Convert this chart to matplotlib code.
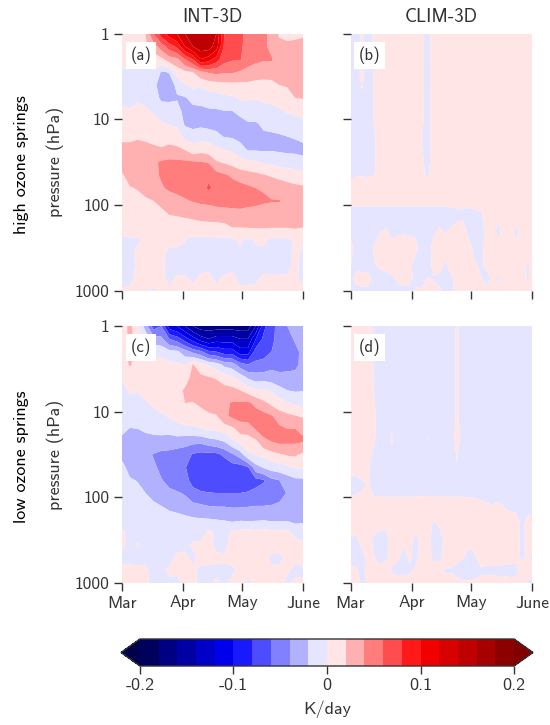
#!/usr/bin/env python
# -*- coding: utf-8 -*-

"""
Spring temperature tendency composites, INT-3D against CLIM-3D
"""

import numpy as np
import matplotlib
matplotlib.use("Agg")
import matplotlib.pyplot as plt

plt.rcParams['font.family'] = ['cmss10', 'DejaVu Sans']
plt.rcParams['axes.unicode_minus'] = False

INK = '#333333'

# values are K/day x 100, one inner list per day, top of the atmosphere first
days_int = [0, 4, 8, 12, 16, 20, 24, 28, 32, 36, 40, 44, 48, 52, 56, 60, 64, 68, 72, 76, 80, 84, 88, 92]
logp_int = [0, .15, .3, .45, .6, .75, .9, 1.05, 1.2, 1.35, 1.5, 1.65, 1.8, 1.95, 2.1, 2.25, 2.4, 2.55, 2.7, 2.85, 3]

high_int = [
    [1, 1, .6, -.2, -1, -.6, .5, 1, 1.6, 2.6, 2.6, 1.8, 1.2, 1, 1, .8, -.3, -.5, -.5, -.4, .3],
    [1.2, 1, .5, -.3, -1, -.8, .2, 1, 1.6, 2.6, 3, 2.6, 1.9, 1.2, 1, .8, -.2, -.3, -.6, -.4, .3],
    [1.5, 1.2, .3, -.8, -1, -.3, .6, 1, 1.7, 3, 3.2, 3, 2.1, 1.5, 1, .8, -.2, .3, .3, .4, .3],
    [2, 1.8, .5, -.5, -1, -.6, .3, 1, 1.6, 2.7, 3.2, 3.2, 2.6, 1.7, 1.2, .8, .3, .3, .3, .3, .3],
    [6, 3, .8, -.2, -1.5, -1, -.2, .7, 1.4, 2.4, 3.6, 3.6, 3, 2, 1.3, .9, .3, .3, .3, .3, -.2],
    [9, 5, 1.5, -2.2, -2.8, -2.4, -.8, .2, 1.2, 2.2, 4.3, 4.2, 3.8, 2.5, 1.5, .9, .3, .3, .3, .3, .3],
    [11, 7, 3, -1.9, -3, -2.4, -1, -.1, 1.2, 2.6, 4.5, 4.7, 4.3, 3, 2.1, .9, .3, -.2, -.5, -.3, .2],
    [12, 8.5, 3.5, .8, -1.5, -2.2, -1.1, -.3, 1, 2.4, 4.5, 4.8, 4.5, 3.4, 2.2, 1, .3, -.2, -.5, .2, .3],
    [14, 12, 6, 1.5, -.1, -2.2, -2.8, -2.3, -.5, 1.9, 4.4, 5, 4.7, 3.8, 2.4, 1, .1, -.5, -.6, .2, .3],
    [15, 14, 8, 2, .4, -1.2, -2.8, -2.7, -.9, .8, 4.3, 5.2, 5, 4.1, 2.6, 1.1, -.4, -.6, -.5, -.2, .3],
    [15.5, 15, 12, 3.5, .2, -1.2, -2.6, -2.5, -.6, 1.3, 4.1, 5.5, 5.2, 4.3, 2.9, 1.2, -.4, -.5, -.3, .2, .3],
    [15, 15, 11, 4.2, .8, -.9, -2.3, -2.7, -.8, 1, 3.9, 5.6, 6.3, 4.4, 3, 1.3, -.4, -.5, -.3, .3, .3],
    [14, 13, 9, 4.5, 1, -.9, -2.2, -2.6, -1.5, .5, 2.2, 4.9, 5.5, 4.7, 3, 1.4, -.3, -.4, -.5, -.2, .3],
    [8, 7.6, 6.7, 4.2, 1.3, -.5, -2, -2.5, -2.1, -.1, 1.8, 4.3, 5.3, 4.8, 3.1, 1.5, -.3, -.5, -.5, .2, .3],
    [7.5, 7.2, 6.2, 4.2, 1.4, -.3, -2, -2.7, -2.2, -.2, 1.4, 3.7, 5, 4.8, 3.3, 2.1, -.2, -.4, -.3, .3, .3],
    [6.5, 6.4, 6.2, 3.8, 1.4, .2, -1.5, -2.7, -2.6, -1.1, .8, 3.1, 4.8, 4.7, 3.5, 2.1, .2, -.3, -.3, -.3, .3],
    [5.4, 5.2, 4.8, 3.4, 1.5, .3, -1, -2.2, -2.6, -2.2, .5, 2.8, 4.4, 4.5, 3.4, 2.2, -.3, -.5, -.5, -.3, .3],
    [5, 4.8, 4.4, 3, 1.3, .1, -1, -2.2, -2.7, -2.2, .3, 2.5, 4, 4.4, 3.3, 2.2, .2, -.3, -.4, -.2, .3],
    [4.8, 4.5, 4.2, 2.8, 1.3, .3, -.7, -1.6, -2.4, -2.3, -.2, 2.1, 3.9, 4.2, 3.2, 2.2, .2, -.2, -.3, .2, .3],
    [3, 3.4, 4.2, 2.8, 1.4, .4, -.5, -1.5, -2.3, -2.2, -.4, 1.8, 3.4, 4.1, 3.1, 2.2, -.3, -.5, -.5, .2, .3],
    [1.7, 2.7, 3, 2.6, 2, .7, -.2, -1.3, -2.2, -2.3, -.7, 1.5, 3.1, 4.1, 3, 2.2, -.3, -.5, -.5, .2, .3],
    [1.4, 2.5, 2.8, 2.6, 2.2, 1, .2, -1, -2, -2.4, -.9, 1.3, 2.7, 3.2, 2.9, 2.2, -.3, -.4, -.4, .2, .3],
    [1.6, 2.5, 2.8, 2.7, 2.3, 2, .4, -.8, -1.9, -2.4, -1.1, 1, 2.5, 3, 2.9, 2.3, .2, .3, .3, .3, .3],
    [1.8, 2.5, 2.8, 2.7, 2.4, 2.1, .6, -.6, -1.6, -2.5, -1.4, .6, 2.4, 2.9, 2.9, 2.1, .2, -.2, -.4, -.3, .3],
]

low_int = [
    [.8, .9, 1, 1, .1, -.4, -1, -1, -1.4, -2.7, -2.4, -1.5, -1.2, -1, -1, -.6, .2, .3, -.3, .3, .3],
    [2.6, 2.6, 2.6, 2.2, 1, .2, -.7, -1, -2.1, -3, -3, -2.6, -1.8, -1.2, -1, -.7, -.4, -.3, -.3, .3, .3],
    [.5, 1, 1.2, 1.2, .8, .1, -.7, -1, -2, -3.2, -3.4, -3, -2.1, -1.4, -1, -.7, -.4, .1, -.3, .2, .2],
    [-3, -.5, .5, 1.2, 1, .6, -.2, -1, -1.6, -3, -3.6, -3.2, -2.7, -2, -1.3, -.8, -.5, -.6, -.3, .3, .2],
    [-7, -3, -.5, 1, 1.2, 1, .3, -.6, -1.5, -2.7, -4.1, -3.7, -3.2, -2.6, -1.6, -.9, -.5, -.4, -.4, -.4, -.3],
    [-6, -3.5, -.5, .8, 1.2, 1.1, .6, -.2, -1.4, -2.7, -4.6, -4.4, -3.9, -3.1, -2, -1.1, -.6, -.3, -.4, -.5, -.4],
    [-11, -6, -1.3, .5, 1.1, 1.2, .8, .2, -1.3, -3, -4.6, -4.9, -4.5, -3.6, -2.4, -1.2, -.6, -.4, -.6, .3, -.3],
    [-12, -7, -1.6, .4, 1.2, 1.5, 1.1, .5, -.6, -3.2, -4.8, -5.2, -5, -3.8, -2.6, -1.4, -.6, -.4, .3, .2, -.3],
    [-14, -9, -3, -.1, 1.4, 2.2, 2, 1.3, -.5, -3.4, -5, -5.8, -5.4, -4.2, -2.9, -1.6, -.8, -.3, .3, .3, .3],
    [-16, -11, -4.5, 2.1, 2.4, 2.8, 1.9, 1.2, -.4, -3.5, -6.2, -7.4, -6.6, -5.4, -3.4, -1.8, -.6, .2, -.4, .3, .3],
    [-17, -13, -5.5, 1, 2.4, 3, 2.3, 1.3, -.1, -3.6, -6.6, -7.8, -7.3, -5.7, -3.7, -1.9, -.8, .4, .5, -.3, -.3],
    [-17, -14, -7.5, -.2, 2.1, 3.1, 2.7, 1.7, .4, -3, -6.6, -7.9, -7.6, -5.9, -4, -2, .3, .6, .4, -.3, -.3],
    [-17, -13, -8, -1, 1.8, 3.2, 2.9, 1.9, .4, -2.6, -6.5, -7.9, -7.7, -6, -4.1, -2.1, -.3, -.4, .3, -.3, .3],
    [-17, -13, -9, -2.5, 1, 2.8, 3.5, 3.6, .8, -2, -5.6, -7.5, -7.6, -6, -4.1, -2.2, -.5, -.4, .2, -.3, -.3],
    [-17, -13, -9, -3, .4, 2.7, 4.2, 4.4, 1.5, -.6, -4.3, -7, -7.6, -6, -4.2, -2.6, .2, .5, .4, -.2, .3],
    [-17, -14, -11, -5, -.7, 2, 4.3, 4.8, 2.8, .5, -3, -7, -7.7, -6, -4.2, -2.4, .5, 1, .5, .3, .3],
    [-17, -14, -11, -6, -2.3, 1.2, 4.4, 5, 2.8, 1, -.4, -6.2, -7.3, -5.8, -4.1, -2.5, .6, .8, .4, .3, -.2],
    [-14, -10, -7, -5.5, -3, .4, 3.5, 5, 4.2, 1.5, .2, -2.8, -6.6, -5.5, -4, -2.4, .4, .9, .4, .3, .3],
    [-8.5, -7.5, -6.5, -5.5, -2.8, .3, 2.5, 4.8, 5, 3.4, .5, -1.8, -6.2, -5.1, -4, -2.3, .6, .9, .5, .3, .2],
    [-6.8, -6.5, -6, -4.6, -3, -.2, 1.5, 4.2, 5, 4, 1.3, -1.2, -4.5, -5, -3.9, -2.5, .4, .8, -.3, .3, .2],
    [-5, -5.2, -5, -4.6, -3.5, -1.2, .9, 3, 4.5, 4.4, 1.8, -.9, -4, -4.6, -3.7, -2.5, .3, .7, -.3, .2, .3],
    [-4, -4.6, -5, -4.6, -3.4, -2, .2, 2.5, 4, 4.3, 2.2, -.4, -3.2, -3.9, -3.4, -2.4, .3, .8, .3, .2, -.3],
    [-3.4, -3.8, -4.5, -4.4, -3.4, -2.2, -.3, 2.1, 4, 4.3, 2.3, .2, -2.5, -3.5, -3.3, -2.8, -.5, .5, .3, -.3, .3],
    [-3, -3.2, -3.5, -3.5, -3.2, -2.1, -.6, 1.7, 3.9, 4.1, 1.6, .2, -2.4, -3.4, -3.2, -2.6, -.7, .3, .5, -.3, .3],
]

days_clim = [0, 3, 6, 9, 12, 15, 18, 21, 24, 27, 30, 33, 36, 39, 42, 45, 48, 51, 54, 57, 60, 63, 66, 69, 72, 75, 78, 81, 84, 87, 90, 92]
logp_clim = [0, .5, 1, 1.3, 1.6, 1.85, 2.1, 2.3, 2.5, 2.7, 2.85, 3]

high_clim = [
    [-1, -1, -1, -1, -.8, 1.2, -.8, -.4, 1, .1, -1, -1],
    [-.5, -.4, -1, -1, -.3, 1.2, -.8, -1, -1, -.7, 1, -1],
    [.3, .3, -1, -1, -.3, 1.2, -.8, -1, -1, -1, 1, -.6],
    [-1, -1, -1, -1, -.4, 1.2, -.8, -1, -1, -1, 1, -.6],
    [.5, .2, .1, -.3, -.2, 1.2, -.8, -1, .3, -.2, -1, -1],
    [1, 1, 1, 1, 1, 1.2, -.8, -.1, 1, .5, -1, -1],
    [1, 1, 1, 1, 1, 1.2, -.8, .2, 1, .8, -1, -1],
    [1, 1, 1, 1, 1, 1.2, -.8, -.5, .7, 1, -.3, -1],
    [1, 1, 1, 1, 1, 1.2, -.8, -.3, 1, 1, .5, -1],
    [1, 1, 1, 1, 1, 1.2, -.8, -.2, 1, 1, 1, -.7],
    [1, 1, 1, 1, 1, 1.2, -.8, -.3, 1, .6, 1, -1],
    [1, 1, 1, 1, 1, 1.2, -.8, -.4, .6, -1, -1, .5],
    [.7, .6, .5, .1, .7, 1.2, -.8, -1, -1, -1, -1, .3],
    [-1, -.8, -1, -1, -.6, 1.2, -.8, -1, -1, -.8, .1, .8],
    [1, 1, 1, 1, 1, 1.2, -.8, -.4, .8, .4, -.1, .8],
    [1, 1, 1, 1, 1, 1.2, -.8, .3, 1, .8, -.5, .3],
    [1, 1, 1, 1, 1, 1.2, -.8, -.1, .3, -.3, -1, -.5],
    [1, 1, 1, 1, 1, 1.3, -.7, .3, 1, .7, -.3, -.5],
    [1, 1, 1, 1, 1, 1.4, -.6, .8, 1, .3, .6, .8],
    [1, 1, 1, 1, 1, 1.5, -.5, 1, 1, 1, .8, .8],
    [1, 1, 1, 1, 1, 1.6, -.8, -.6, .8, 1, 1, 1],
    [1, 1, 1, 1, 1, 1.6, -.5, -1, -.6, .3, 1, 1],
    [1, 1, 1, 1, 1, 1.6, -.3, -1, -1, -.4, .2, 1],
    [1, 1, 1, 1, 1, 1.7, 1, .8, 1, .7, -1, 1],
    [1, 1, 1, 1, 1, 1.7, 1.2, .6, .2, 1, .3, 1],
    [1, 1, 1, 1, 1, 1.7, .2, -.5, 1, 1, -.3, 1],
    [1, 1, 1, 1, 1, 1.7, 1, 1, 1, 1, 1, 1],
    [1, 1, 1, 1, 1, 1.7, 1, 1, 1, 1, 1, 1],
    [1, 1, 1, 1, 1, 1.7, 1, -.5, .1, 1, 1, .3],
    [1, 1, 1, 1, 1, 1.7, 1, 1, 1, 1, 1, .3],
    [1, 1, 1, 1, 1, 1.7, 1, 1, 1, -.5, -.3, 1],
    [1, 1, 1, 1, 1, 1.7, 1, 1, 1, 1, 1, 1],
]

low_clim = [
    [1, 1, 1, 1, 1, -1, 1.2, 1, -.2, -.8, 1, 1],
    [1, 1, 1, 1, .9, -.8, 1.2, 1, -.5, -1, .2, 1],
    [1, 1, 1, 1, 1, -.3, 1.2, 1, 1, -1, -.7, -.5],
    [1, 1, 1, 1, .3, .2, 1.2, 1, 1, 1, 1, .3],
    [-.2, -.2, .3, .3, -1, -1, 1, 1, -.6, .1, 1, 1],
    [-1, -1, -1, -1, -1, -1, 1, .7, -1, -1, 1, 1],
    [-1, -1, -1, -1, -1, -1, 1, .5, -.8, -.3, 1, 1],
    [-1, -1, -1, .3, -1, -1, 1, 1, 1, .6, -.3, 1],
    [-1, -1, -1, -1, -1, -1, 1, 1, .6, .3, -.7, 1],
    [-1, -1, -1, -1, -1, -1, 1, 1, .2, -.6, -.5, 1],
    [-1, -1, -1, -1, -1, -1, 1, 1, 1, .4, -.4, 1],
    [-1, -1, -1, -1, -1, -1, 1, 1, -.8, -.8, .5, 1],
    [-1, -1, -1, -1, -1, -1, 1.1, 1, 1, 1, 1, 1],
    [-1, -1, -1, .1, -1, -1, 1.1, 1, 1, 1, 1, 1],
    [-1, -1, -1, -1, -1, -1, 1.1, -.2, -1, -.4, 1, 1],
    [-1, -1, -1, -1, -1, -1, 1, .3, -1, -.5, 1, 1],
    [-1, -1, -1, -1, -1, -1, 1, 1, .5, 1, -.2, .6],
    [-1, -1, -1, -1, -1, -1, 1, 1, 1, 1, -.2, 1],
    [.3, .3, .3, .9, 0, -1, 1, 1, 1, .6, -.6, .6],
    [-1, -1, -1, -1, -1, -1, 1, 1, 1, .1, -1, .3],
    [-1, -1, -1, -1, -1, -1, .9, 1, .6, -.8, -1, .3],
    [-1, -1, -1, -1, -1, -1, .8, 1, 1, -.3, -1, .6],
    [-1, -1, -1, -1, -1, -1, .6, 1, 1, 1, -.4, .8],
    [-1, -1, -1, -1, -1, -1, .2, 1, 1, 1, -.6, 1],
    [-1, -1, -1, -1, -1, -1, .1, 1, 1, 1, -.6, 1],
    [-1, -1, -1, -1, -1, -1, .3, 1, 1, 1, -.7, 1],
    [-1, -1, -1, -1, -1, -1, -.1, 1, 1, .8, -.6, .8],
    [-1, -1, -1, -1, -1, -1, -.4, 1, 1, .6, -.7, .7],
    [-1, -1, -1, -1, -1, -1, -.5, 1, 1, .6, -.7, .8],
    [-1, -1, -1, -1, -1, -1, -.7, -.6, -.8, -.4, 1, 1],
    [-1, -1, -1, -1, -1, -1, -.8, 1, 1, .5, 1, -.3],
    [-1, -1, -1, -1, -1, -1, -.9, 1, 1, -.5, 1, -.8],
]

levels = [-.2, -.18, -.16, -.14, -.12, -.1, -.08, -.06, -.04, -.02, 0,
          .02, .04, .06, .08, .1, .12, .14, .16, .18, .2]
month_days = [0, 31, 61, 92]
month_labels = ['Mar', 'Apr', 'May', 'June']
pressure_ticks = [1, 10, 100, 1000]
pressure_labels = ['1', '10', '100', '1000']
cbar_ticks = [-.2, -.1, 0, .1, .2]
cbar_labels = ['-0.2', '-0.1', '0', '0.1', '0.2']

W, H = 550.0, 725.0


def pixel_axes(fig, left, top, right, bottom):
    return fig.add_axes([left / W, 1 - bottom / H, (right - left) / W, (bottom - top) / H])


fig = plt.figure(figsize=(5.5, 7.25), dpi=100)

panels = [
    (pixel_axes(fig, 122, 33.5, 303, 291), days_int, logp_int, high_int, '(a)'),
    (pixel_axes(fig, 350.5, 33.5, 532, 291), days_clim, logp_clim, high_clim, '(b)'),
    (pixel_axes(fig, 122, 326, 303, 583), days_int, logp_int, low_int, '(c)'),
    (pixel_axes(fig, 350.5, 326, 532, 583), days_clim, logp_clim, low_clim, '(d)'),
]

for k, (ax, days, logp, field, tag) in enumerate(panels):
    z = np.array(field).T / 100.0
    cf = ax.contourf(days, 10.0 ** np.array(logp), z, levels=levels, cmap='seismic',
                     extend='both', antialiased=True)
    ax.set_yscale('log')
    ax.set_ylim(1000, 1)
    ax.set_xlim(0, 92)
    ax.minorticks_off()
    for s in ax.spines.values():
        s.set_visible(False)
    ax.set_xticks(month_days)
    ax.set_yticks(pressure_ticks)
    ax.set_xticklabels(month_labels if k >= 2 else [])
    ax.set_yticklabels(pressure_labels if k % 2 == 0 else [])
    ax.tick_params(which='major', length=6, width=1, color=INK, labelcolor=INK, labelsize=12.5, pad=3)
    ax.text(.105, .916, tag, transform=ax.transAxes, ha='center', va='center', color=INK, fontsize=12,
            bbox=dict(facecolor='white', edgecolor='none', pad=3.5))

panels[0][0].set_title('INT-3D', color=INK, fontsize=13.5, pad=8)
panels[1][0].set_title('CLIM-3D', color=INK, fontsize=13.5, pad=8)

for ax in (panels[0][0], panels[2][0]):
    ax.set_ylabel('pressure (hPa)', color=INK, fontsize=13)
    ax.yaxis.set_label_coords(-58 / 181.0, .5)

fig.text(22 / W, 1 - 165 / H, 'high ozone springs', rotation=90, ha='center', va='center', color='black', fontsize=13)
fig.text(22 / W, 1 - 457 / H, 'low ozone springs', rotation=90, ha='center', va='center', color='black', fontsize=13)

cax = pixel_axes(fig, 121, 639, 533, 666)
cb = fig.colorbar(cf, cax=cax, orientation='horizontal', extend='both', extendfrac=.0508,
                  ticks=cbar_ticks, drawedges=False)
cb.ax.set_xticklabels(cbar_labels)
cb.ax.tick_params(length=6, width=1, color=INK, labelcolor=INK, labelsize=13, pad=3)
cb.outline.set_edgecolor(INK)
cb.outline.set_linewidth(1)
cb.set_label('K/day', color=INK, fontsize=13, labelpad=5)

fig.savefig('out.png', dpi=100)
